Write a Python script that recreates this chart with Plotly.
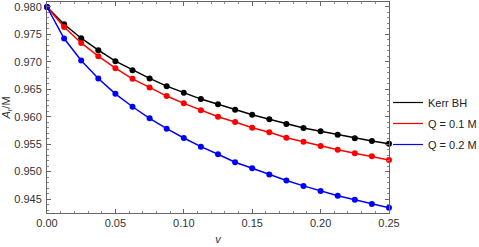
import plotly.graph_objects as go

v = [i * 0.0125 for i in range(21)]

kerr = [0.98000, 0.97686, 0.97431, 0.97213, 0.97013, 0.96849, 0.96698, 0.96558,
        0.96436, 0.96322, 0.96226, 0.96127, 0.96037, 0.95953, 0.95867, 0.95795,
        0.95735, 0.95673, 0.95607, 0.95558, 0.95509]
q01 = [0.98000, 0.97636, 0.97345, 0.97104, 0.96886, 0.96691, 0.96535, 0.96377,
       0.96244, 0.96117, 0.96000, 0.95904, 0.95800, 0.95717, 0.95618, 0.95546,
       0.95468, 0.95400, 0.95335, 0.95280, 0.95213]
q02 = [0.98000, 0.97425, 0.97025, 0.96698, 0.96418, 0.96182, 0.95971, 0.95782,
       0.95613, 0.95455, 0.95316, 0.95171, 0.95062, 0.94946, 0.94837, 0.94740,
       0.94649, 0.94559, 0.94486, 0.94408, 0.94340]

names = ["Kerr BH", "Q = 0.1 M", "Q = 0.2 M"]
colors = ["#000000", "#ff0000", "#0000ff"]
series = [kerr, q01, q02]

x_ticks = [0.00, 0.05, 0.10, 0.15, 0.20, 0.25]
y_ticks = [0.945, 0.950, 0.955, 0.960, 0.965, 0.970, 0.975, 0.980]

fig = go.Figure()
for name, col, ys in zip(names, colors, series):
    fig.add_trace(go.Scatter(x=v, y=ys, mode="lines+markers",
                             line=dict(color=col, width=1.5),
                             marker=dict(color=col, size=6),
                             showlegend=False, cliponaxis=False))
for i, (name, col) in enumerate(zip(names, colors)):
    fig.add_trace(go.Scatter(x=[None], y=[None], mode="lines", name=name,
                             line=dict(color=col, width=1.2),
                             legendgroup=f"g{i}"))

axis_common = dict(
    showline=True, linecolor="#666666", linewidth=1, mirror="allticks",
    ticks="inside", ticklen=4, tickcolor="#666666", tickwidth=1,
    showgrid=False, zeroline=False,
    tickfont=dict(family="Liberation Sans, Arial", size=11, color="#333333"),
)

fig.update_xaxes(range=[0, 0.25], tickvals=x_ticks, tickformat=".2f",
                 minor=dict(ticks="inside", ticklen=2, tickcolor="#888888", dtick=0.01, tick0=0),
                 title=dict(text="<i>v</i>", standoff=7,
                            font=dict(family="Liberation Sans, Arial", size=11, color="#333333")),
                 **axis_common)
fig.update_yaxes(range=[0.94246, 0.98091], tickvals=y_ticks, tickformat=".3f",
                 minor=dict(ticks="inside", ticklen=2, tickcolor="#888888", dtick=0.001, tick0=0.94),
                 ticklabelstandoff=2,
                 title=dict(text="<i>A</i><sub><i>r</i></sub>/M", standoff=4,
                            font=dict(family="Liberation Sans, Arial", size=11, color="#333333")),
                 **axis_common)

fig.update_layout(
    width=479, height=247,
    margin=dict(l=47, r=90, t=2, b=34, autoexpand=False),
    plot_bgcolor="white", paper_bgcolor="white",
    legend=dict(xref="container", yref="container", x=388 / 479, y=1 - 88 / 247,
                xanchor="left", yanchor="top",
                font=dict(family="Liberation Sans, Arial", size=11, color="#222222"),
                tracegroupgap=2, itemwidth=30, bgcolor="rgba(0,0,0,0)"),
)

fig.write_html("out.html", post_script="document.body.style.margin='0';",
               config={"displayModeBar": False})
